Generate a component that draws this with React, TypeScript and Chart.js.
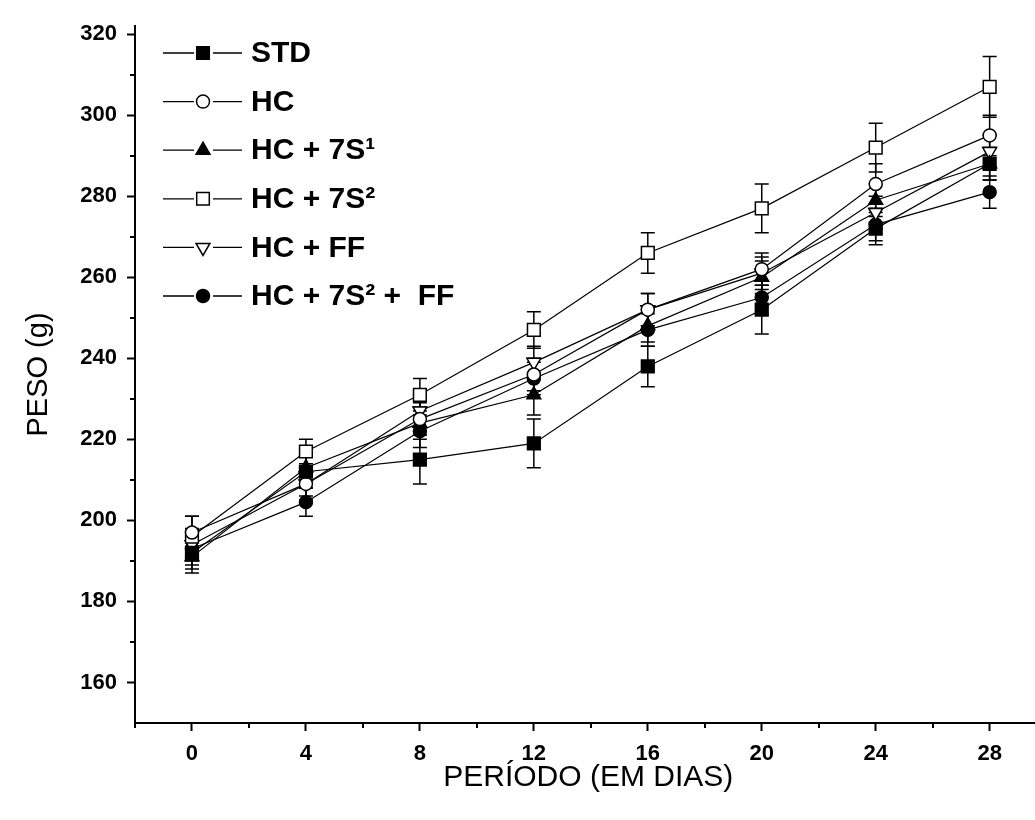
import React, { useEffect, useRef } from 'react';
import { Chart, registerables } from 'chart.js';

Chart.register(...registerables);

// ---- data ----
const days = [0, 4, 8, 12, 16, 20, 24, 28];
const seriesNames = ['STD', 'HC', 'HC + 7S¹', 'HC + 7S²', 'HC + FF', 'HC + 7S² +  FF'];

const stdValues = [192, 212, 215, 219, 238, 252, 272, 288];
const stdErrors = [4, 4, 6, 6, 5, 6, 4, 4];
const hcValues = [197, 209, 225, 236, 252, 262, 283, 295];
const hcErrors = [4, 4, 4, 4, 4, 4, 5, 5];
const hc7s1Values = [191, 213, 224, 231, 248, 260, 279, 288];
const hc7s1Errors = [4, 3, 4, 5, 4, 4, 4, 4];
const hc7s2Values = [196, 217, 231, 247, 266, 277, 292, 307];
const hc7s2Errors = [5, 3, 4, 4.5, 5, 6, 6, 7.5];
const hcffValues = [194, 209, 227, 239, 252, 261, 276, 291];
const hcffErrors = [4, 3, 4, 4, 4, 4, 4, 4];
const hc7s2ffValues = [193, 204.5, 222, 235, 247, 255, 273, 281];
const hc7s2ffErrors = [4, 3.5, 4, 4, 4, 4, 4, 4];

const xTickValues = [0, 4, 8, 12, 16, 20, 24, 28];
const xMinorValues = [-2, 2, 6, 10, 14, 18, 22, 26];
const yTickValues = [160, 180, 200, 220, 240, 260, 280, 300, 320];
const yMinorValues = [170, 190, 210, 230, 250, 270, 290, 310];

const xTitle = 'PERÍODO (EM DIAS)';
const yTitle = 'PESO (g)';

// ---- styles ----
type Shape = 'rect' | 'circle' | 'triangle' | 'triangleDown';
const markerShapes: Shape[] = ['rect', 'circle', 'triangle', 'rect', 'triangleDown', 'circle'];
const markerFilled = [true, false, true, false, false, true];

const allValues = [stdValues, hcValues, hc7s1Values, hc7s2Values, hcffValues, hc7s2ffValues];
const allErrors = [stdErrors, hcErrors, hc7s1Errors, hc7s2Errors, hcffErrors, hc7s2ffErrors];

const TICK_FONT = "'Liberation Sans Narrow', 'Arial Narrow', 'Liberation Sans', Arial, sans-serif";
const TEXT_FONT = "'Liberation Sans', Arial, sans-serif";

function radiusFor(shape: Shape) {
  if (shape === 'rect') return 9;
  if (shape === 'circle') return 6.5;
  return 8;
}

function drawMarker(ctx: CanvasRenderingContext2D, shape: Shape, filled: boolean, x: number, y: number) {
  ctx.save();
  ctx.beginPath();
  if (shape === 'rect') {
    const h = 6.3;
    ctx.rect(x - h, y - h, 2 * h, 2 * h);
  } else if (shape === 'circle') {
    ctx.arc(x, y, 6.5, 0, Math.PI * 2);
  } else {
    const r = 8;
    const dir = shape === 'triangle' ? 1 : -1;
    ctx.moveTo(x, y - dir * r);
    ctx.lineTo(x + r * 0.866, y + dir * r * 0.5);
    ctx.lineTo(x - r * 0.866, y + dir * r * 0.5);
    ctx.closePath();
  }
  ctx.fillStyle = filled ? '#000' : '#fff';
  ctx.fill();
  ctx.strokeStyle = '#000';
  ctx.lineWidth = 1.5;
  ctx.stroke();
  ctx.restore();
}

const errorBarPlugin = {
  id: 'errorBars',
  beforeDatasetsDraw(chart: any) {
    const { ctx, scales } = chart;
    const xs = scales.x;
    const ys = scales.y;
    ctx.save();
    ctx.strokeStyle = '#000';
    ctx.lineWidth = 1.5;
    allValues.forEach((vals, si) => {
      vals.forEach((v, i) => {
        const e = allErrors[si][i];
        const px = xs.getPixelForValue(days[i]);
        const top = ys.getPixelForValue(v + e);
        const bot = ys.getPixelForValue(v - e);
        ctx.beginPath();
        ctx.moveTo(px, top);
        ctx.lineTo(px, bot);
        ctx.moveTo(px - 7, top);
        ctx.lineTo(px + 7, top);
        ctx.moveTo(px - 7, bot);
        ctx.lineTo(px + 7, bot);
        ctx.stroke();
      });
    });
    ctx.restore();
  },
};

const minorTickPlugin = {
  id: 'minorTicks',
  afterDraw(chart: any) {
    const { ctx, scales, chartArea } = chart;
    ctx.save();
    ctx.strokeStyle = '#000';
    ctx.lineWidth = 2;
    ctx.beginPath();
    xMinorValues.forEach((v) => {
      const px = Math.round(scales.x.getPixelForValue(v));
      ctx.moveTo(px, chartArea.bottom);
      ctx.lineTo(px, chartArea.bottom + 5);
    });
    yMinorValues.forEach((v) => {
      const py = Math.round(scales.y.getPixelForValue(v));
      ctx.moveTo(chartArea.left, py);
      ctx.lineTo(chartArea.left - 5, py);
    });
    ctx.stroke();
    ctx.restore();
  },
};

const legendPlugin = {
  id: 'customLegend',
  afterDraw(chart: any) {
    const { ctx } = chart;
    ctx.save();
    const startY = 53;
    const step = 48.6;
    seriesNames.forEach((name, i) => {
      const y = startY + i * step;
      ctx.strokeStyle = '#000';
      ctx.lineWidth = 1.3;
      ctx.beginPath();
      ctx.moveTo(163, y);
      ctx.lineTo(194, y);
      ctx.moveTo(213, y);
      ctx.lineTo(242, y);
      ctx.stroke();
      drawMarker(ctx, markerShapes[i], markerFilled[i], 203, y);
      ctx.fillStyle = '#000';
      ctx.font = `bold 30px ${TEXT_FONT}`;
      ctx.textBaseline = 'middle';
      ctx.textAlign = 'left';
      ctx.fillText(name, 251, y + 1);
    });
    ctx.restore();
  },
};

export default function App() {
  const canvasRef = useRef<HTMLCanvasElement | null>(null);

  useEffect(() => {
    document.body.style.margin = '0';
    const canvas = canvasRef.current;
    if (!canvas) return;

    const datasets = allValues.map((vals, i) => ({
      label: seriesNames[i],
      data: vals.map((v, j) => ({ x: days[j], y: v })),
      borderColor: '#000',
      borderWidth: 1.2,
      pointStyle: markerShapes[i] === 'triangleDown' ? 'triangle' : markerShapes[i],
      pointRotation: markerShapes[i] === 'triangleDown' ? 180 : 0,
      pointRadius: radiusFor(markerShapes[i]),
      pointBackgroundColor: markerFilled[i] ? '#000' : '#fff',
      pointBorderColor: '#000',
      pointBorderWidth: 1.5,
      fill: false,
      tension: 0,
    }));

    const chart = new Chart(canvas, {
      type: 'line',
      data: { datasets },
      plugins: [errorBarPlugin, minorTickPlugin, legendPlugin],
      options: {
        responsive: false,
        animation: false,
        devicePixelRatio: 1,
        layout: { padding: { top: 26, right: 0, left: 0, bottom: 0 } },
        plugins: {
          legend: { display: false },
          tooltip: { enabled: false },
        },
        scales: {
          x: {
            type: 'linear',
            min: -2,
            max: 29.82,
            position: 'bottom',
            afterBuildTicks: (scale: any) => {
              scale.ticks = xTickValues.map((v) => ({ value: v }));
            },
            afterFit: (scale: any) => {
              scale.height = 97;
            },
            grid: {
              drawOnChartArea: false,
              drawTicks: true,
              tickLength: 8,
              tickWidth: 2,
              tickColor: '#000',
            },
            border: { display: true, color: '#000', width: 2 },
            ticks: {
              color: '#000',
              padding: 10,
              maxRotation: 0,
              autoSkip: false,
              font: { family: TICK_FONT, size: 22, weight: 'bold' },
              callback: (v: any) => String(v),
            },
            title: {
              display: true,
              text: xTitle,
              color: '#000',
              font: { family: TEXT_FONT, size: 30 },
              padding: { top: 0, bottom: 24 },
            },
          },
          y: {
            type: 'linear',
            min: 150,
            max: 322,
            position: 'left',
            afterBuildTicks: (scale: any) => {
              scale.ticks = yTickValues.map((v) => ({ value: v }));
            },
            afterFit: (scale: any) => {
              scale.width = 135;
            },
            grid: {
              drawOnChartArea: false,
              drawTicks: true,
              tickLength: 8,
              tickWidth: 2,
              tickColor: '#000',
            },
            border: { display: true, color: '#000', width: 2 },
            ticks: {
              color: '#000',
              padding: 10,
              autoSkip: false,
              font: { family: TICK_FONT, size: 22, weight: 'bold' },
              callback: (v: any) => String(v),
            },
            title: {
              display: true,
              text: yTitle,
              color: '#000',
              font: { family: TEXT_FONT, size: 29 },
              padding: { top: 22, bottom: 0 },
            },
          },
        },
      },
    } as any);

    return () => {
      chart.destroy();
    };
  }, []);

  return (
    <div style={{ width: 1035, height: 820, overflow: 'hidden', background: '#fff' }}>
      <canvas ref={canvasRef} width={1052} height={820} style={{ display: 'block' }} />
    </div>
  );
}
